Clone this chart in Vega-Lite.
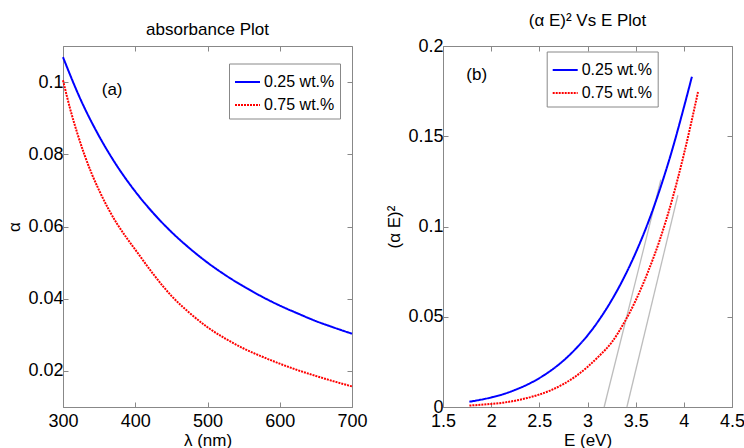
{
  "$schema": "https://vega.github.io/schema/vega-lite/v6.json",
  "padding": {"left": 5, "top": 11, "right": 0, "bottom": 0},
  "background": "white",
  "datasets": {
    "absorb": [
      {"series": "0.25 wt.%", "lambda": 300, "alpha": 0.1069},
      {"series": "0.25 wt.%", "lambda": 325, "alpha": 0.0949},
      {"series": "0.25 wt.%", "lambda": 350, "alpha": 0.0850},
      {"series": "0.25 wt.%", "lambda": 375, "alpha": 0.0767},
      {"series": "0.25 wt.%", "lambda": 400, "alpha": 0.0697},
      {"series": "0.25 wt.%", "lambda": 425, "alpha": 0.0637},
      {"series": "0.25 wt.%", "lambda": 450, "alpha": 0.0585},
      {"series": "0.25 wt.%", "lambda": 475, "alpha": 0.0540},
      {"series": "0.25 wt.%", "lambda": 500, "alpha": 0.0500},
      {"series": "0.25 wt.%", "lambda": 525, "alpha": 0.0465},
      {"series": "0.25 wt.%", "lambda": 550, "alpha": 0.0434},
      {"series": "0.25 wt.%", "lambda": 575, "alpha": 0.0406},
      {"series": "0.25 wt.%", "lambda": 600, "alpha": 0.0381},
      {"series": "0.25 wt.%", "lambda": 625, "alpha": 0.0359},
      {"series": "0.25 wt.%", "lambda": 650, "alpha": 0.0338},
      {"series": "0.25 wt.%", "lambda": 675, "alpha": 0.0320},
      {"series": "0.25 wt.%", "lambda": 700, "alpha": 0.0303},
      {"series": "0.75 wt.%", "lambda": 300, "alpha": 0.1005},
      {"series": "0.75 wt.%", "lambda": 310, "alpha": 0.0925},
      {"series": "0.75 wt.%", "lambda": 320, "alpha": 0.0857},
      {"series": "0.75 wt.%", "lambda": 330, "alpha": 0.0797},
      {"series": "0.75 wt.%", "lambda": 340, "alpha": 0.0745},
      {"series": "0.75 wt.%", "lambda": 350, "alpha": 0.0700},
      {"series": "0.75 wt.%", "lambda": 362.5, "alpha": 0.0650},
      {"series": "0.75 wt.%", "lambda": 375, "alpha": 0.0607},
      {"series": "0.75 wt.%", "lambda": 387.5, "alpha": 0.0570},
      {"series": "0.75 wt.%", "lambda": 400, "alpha": 0.0536},
      {"series": "0.75 wt.%", "lambda": 425, "alpha": 0.0468},
      {"series": "0.75 wt.%", "lambda": 450, "alpha": 0.0408},
      {"series": "0.75 wt.%", "lambda": 475, "alpha": 0.0361},
      {"series": "0.75 wt.%", "lambda": 500, "alpha": 0.0321},
      {"series": "0.75 wt.%", "lambda": 525, "alpha": 0.0289},
      {"series": "0.75 wt.%", "lambda": 550, "alpha": 0.0262},
      {"series": "0.75 wt.%", "lambda": 575, "alpha": 0.0240},
      {"series": "0.75 wt.%", "lambda": 600, "alpha": 0.0220},
      {"series": "0.75 wt.%", "lambda": 625, "alpha": 0.0202},
      {"series": "0.75 wt.%", "lambda": 650, "alpha": 0.0186},
      {"series": "0.75 wt.%", "lambda": 675, "alpha": 0.0171},
      {"series": "0.75 wt.%", "lambda": 700, "alpha": 0.0157}
    ],
    "tauc": [
      {"series": "0.25 wt.%", "E": 1.774, "v": 0.0029},
      {"series": "0.25 wt.%", "E": 2.0, "v": 0.0053},
      {"series": "0.25 wt.%", "E": 2.125, "v": 0.0071},
      {"series": "0.25 wt.%", "E": 2.25, "v": 0.0095},
      {"series": "0.25 wt.%", "E": 2.375, "v": 0.0124},
      {"series": "0.25 wt.%", "E": 2.5, "v": 0.0160},
      {"series": "0.25 wt.%", "E": 2.625, "v": 0.0204},
      {"series": "0.25 wt.%", "E": 2.75, "v": 0.0257},
      {"series": "0.25 wt.%", "E": 2.875, "v": 0.0321},
      {"series": "0.25 wt.%", "E": 3.0, "v": 0.0396},
      {"series": "0.25 wt.%", "E": 3.125, "v": 0.0486},
      {"series": "0.25 wt.%", "E": 3.25, "v": 0.0591},
      {"series": "0.25 wt.%", "E": 3.375, "v": 0.0713},
      {"series": "0.25 wt.%", "E": 3.5, "v": 0.0854},
      {"series": "0.25 wt.%", "E": 3.625, "v": 0.1016},
      {"series": "0.25 wt.%", "E": 3.75, "v": 0.1204},
      {"series": "0.25 wt.%", "E": 3.875, "v": 0.1417},
      {"series": "0.25 wt.%", "E": 4.0, "v": 0.1659},
      {"series": "0.25 wt.%", "E": 4.084, "v": 0.1830},
      {"series": "0.75 wt.%", "E": 1.774, "v": 0.0008},
      {"series": "0.75 wt.%", "E": 2.0, "v": 0.0017},
      {"series": "0.75 wt.%", "E": 2.125, "v": 0.0024},
      {"series": "0.75 wt.%", "E": 2.25, "v": 0.0035},
      {"series": "0.75 wt.%", "E": 2.375, "v": 0.0050},
      {"series": "0.75 wt.%", "E": 2.5, "v": 0.0069},
      {"series": "0.75 wt.%", "E": 2.625, "v": 0.0094},
      {"series": "0.75 wt.%", "E": 2.75, "v": 0.0127},
      {"series": "0.75 wt.%", "E": 2.875, "v": 0.0169},
      {"series": "0.75 wt.%", "E": 3.0, "v": 0.0222},
      {"series": "0.75 wt.%", "E": 3.125, "v": 0.0285},
      {"series": "0.75 wt.%", "E": 3.25, "v": 0.0357},
      {"series": "0.75 wt.%", "E": 3.375, "v": 0.0462},
      {"series": "0.75 wt.%", "E": 3.5, "v": 0.0590},
      {"series": "0.75 wt.%", "E": 3.625, "v": 0.0745},
      {"series": "0.75 wt.%", "E": 3.75, "v": 0.0925},
      {"series": "0.75 wt.%", "E": 3.875, "v": 0.1142},
      {"series": "0.75 wt.%", "E": 4.0, "v": 0.1399},
      {"series": "0.75 wt.%", "E": 4.147, "v": 0.1745}
    ],
    "tangent": [
      {"fit": "t1", "E": 3.173, "v": 0},
      {"fit": "t1", "E": 3.762, "v": 0.126},
      {"fit": "t2", "E": 3.409, "v": 0},
      {"fit": "t2", "E": 3.938, "v": 0.1173}
    ],
    "labA": [{"lambda": 368, "alpha": 0.0977, "label": "(a)"}],
    "labB": [{"E": 1.85, "v": 0.1838, "label": "(b)"}]
  },
  "hconcat": [
    {
      "width": 289,
      "height": 361,
      "title": {"text": "absorbance Plot"},
      "layer": [
        {
          "data": {"name": "absorb"},
          "mark": {"type": "line", "strokeWidth": 2, "interpolate": "monotone"},
          "encoding": {
            "x": {"field": "lambda", "type": "quantitative", "scale": {"domain": [300, 700], "nice": false},
                  "axis": {"orient": "bottom", "title": "λ (nm)", "values": [300, 400, 500, 600, 700]}},
            "y": {"field": "alpha", "type": "quantitative", "scale": {"domain": [0.01, 0.11], "nice": false, "zero": false},
                  "axis": {"orient": "left", "title": "α", "values": [0.02, 0.04, 0.06, 0.08, 0.1], "format": ".2~f"}},
            "color": {"field": "series", "type": "nominal",
                      "scale": {"domain": ["0.25 wt.%", "0.75 wt.%"], "range": ["#0000ff", "#ff0000"]},
                      "legend": {"title": null, "orient": "none", "legendX": 166, "legendY": 17.5}},
            "strokeDash": {"field": "series", "type": "nominal",
                      "scale": {"domain": ["0.25 wt.%", "0.75 wt.%"], "range": [[1, 0], [2, 1]]},
                      "legend": {"title": null, "orient": "none", "legendX": 166, "legendY": 17.5}}
          }
        },
        {
          "data": {"name": "absorb"},
          "mark": {"type": "point", "opacity": 0},
          "encoding": {
            "x": {"field": "lambda", "type": "quantitative",
                  "axis": {"orient": "top", "title": null, "labels": false, "domain": false, "values": [300, 400, 500, 600, 700]}},
            "y": {"field": "alpha", "type": "quantitative",
                  "axis": {"orient": "right", "title": null, "labels": false, "domain": false, "values": [0.02, 0.04, 0.06, 0.08, 0.1]}}
          }
        },
        {
          "data": {"name": "labA"},
          "mark": {"type": "text", "fontSize": 17, "font": "Liberation Sans"},
          "encoding": {
            "x": {"field": "lambda", "type": "quantitative", "axis": null},
            "y": {"field": "alpha", "type": "quantitative", "axis": null},
            "text": {"field": "label"}
          }
        }
      ],
      "resolve": {"axis": {"x": "independent", "y": "independent"}}
    },
    {
      "width": 289,
      "height": 361,
      "title": {"text": "(α E)² Vs E Plot"},
      "layer": [
        {
          "data": {"name": "tangent"},
          "mark": {"type": "line", "strokeWidth": 1.3, "color": "#bdbdbd"},
          "encoding": {
            "x": {"field": "E", "type": "quantitative", "axis": null},
            "y": {"field": "v", "type": "quantitative", "axis": null},
            "detail": {"field": "fit"}
          }
        },
        {
          "data": {"name": "tauc"},
          "mark": {"type": "line", "strokeWidth": 2, "interpolate": "monotone"},
          "encoding": {
            "x": {"field": "E", "type": "quantitative", "scale": {"domain": [1.5, 4.5], "nice": false, "zero": false},
                  "axis": {"orient": "bottom", "title": "E (eV)", "values": [1.5, 2, 2.5, 3, 3.5, 4, 4.5], "format": ".1~f"}},
            "y": {"field": "v", "type": "quantitative", "scale": {"domain": [0, 0.2], "nice": false},
                  "axis": {"orient": "left", "title": "(α E)²", "values": [0, 0.05, 0.1, 0.15, 0.2], "format": ".2~f"}},
            "color": {"field": "series", "type": "nominal",
                      "scale": {"domain": ["0.25 wt.%", "0.75 wt.%"], "range": ["#0000ff", "#ff0000"]},
                      "legend": {"title": null, "orient": "none", "legendX": 103.7, "legendY": 5.5}},
            "strokeDash": {"field": "series", "type": "nominal",
                      "scale": {"domain": ["0.25 wt.%", "0.75 wt.%"], "range": [[1, 0], [2, 1]]},
                      "legend": {"title": null, "orient": "none", "legendX": 103.7, "legendY": 5.5}}
          }
        },
        {
          "data": {"name": "tauc"},
          "mark": {"type": "point", "opacity": 0},
          "encoding": {
            "x": {"field": "E", "type": "quantitative",
                  "axis": {"orient": "top", "title": null, "labels": false, "domain": false, "values": [1.5, 2, 2.5, 3, 3.5, 4, 4.5]}},
            "y": {"field": "v", "type": "quantitative",
                  "axis": {"orient": "right", "title": null, "labels": false, "domain": false, "values": [0, 0.05, 0.1, 0.15, 0.2]}}
          }
        },
        {
          "data": {"name": "labB"},
          "mark": {"type": "text", "fontSize": 17, "font": "Liberation Sans"},
          "encoding": {
            "x": {"field": "E", "type": "quantitative", "axis": null},
            "y": {"field": "v", "type": "quantitative", "axis": null},
            "text": {"field": "label"}
          }
        }
      ],
      "resolve": {"axis": {"x": "independent", "y": "independent"}}
    }
  ],
  "spacing": 91,
  "bounds": "flush",
  "resolve": {
    "scale": {"color": "independent", "strokeDash": "independent"},
    "legend": {"color": "independent", "strokeDash": "independent"}
  },
  "config": {
    "font": "Liberation Sans",
    "view": {"stroke": "#888888", "strokeWidth": 1},
    "title": {"fontSize": 17, "fontWeight": "normal", "font": "Liberation Sans", "color": "#000000", "offset": 7, "anchor": "middle"},
    "axis": {
      "labelFont": "Liberation Sans", "titleFont": "Liberation Sans",
      "labelFontSize": 18, "titleFontSize": 17, "titleFontWeight": "normal",
      "labelColor": "#000000", "titleColor": "#000000",
      "domainColor": "#888888", "tickColor": "#888888",
      "tickSize": -5, "grid": false,
      "labelFlush": false, "labelOverlap": false
    },
    "axisX": {"labelPadding": 10, "titlePadding": 2},
    "axisY": {"labelPadding": 5, "titlePadding": 4},
    "legend": {
      "labelFont": "Liberation Sans", "labelFontSize": 16, "labelColor": "#000000",
      "strokeColor": "#888888", "fillColor": "#ffffff", "padding": 5,
      "symbolType": "stroke", "symbolSize": 625, "symbolStrokeWidth": 2,
      "labelOffset": 3, "rowPadding": 1
    }
  }
}
